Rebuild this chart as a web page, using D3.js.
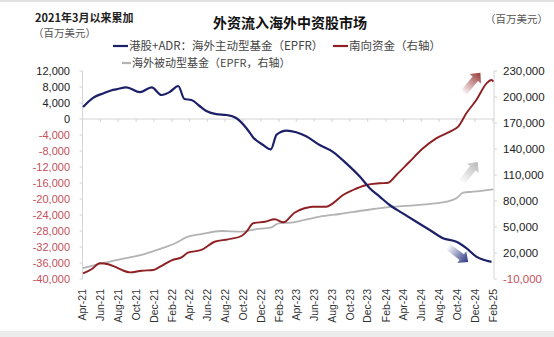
<!DOCTYPE html>
<html><head><meta charset="utf-8">
<script src="https://cdn.jsdelivr.net/npm/d3@7"></script>
<style>
html,body{margin:0;padding:0;background:#fff;}
svg{display:block;font-family:"Liberation Sans",Arial,sans-serif;}
.cjk{font-family:"Noto Sans CJK SC","Liberation Sans",sans-serif;}
</style></head><body>
<svg id="chart" width="554" height="337"></svg>
<script>
// ---- data ----
const xTickLabels = ["Apr-21","Jun-21","Aug-21","Oct-21","Dec-21","Feb-22","Apr-22","Jun-22","Aug-22","Oct-22","Dec-22","Feb-23","Apr-23","Jun-23","Aug-23","Oct-23","Dec-23","Feb-24","Apr-24","Jun-24","Aug-24","Oct-24","Dec-24","Feb-25"];
const leftTicks = [12000,8000,4000,0,-4000,-8000,-12000,-16000,-20000,-24000,-28000,-32000,-36000,-40000];
const rightTicks = [230000,200000,170000,140000,110000,80000,50000,20000,-10000];

// 港股+ADR：海外主动型基金（EPFR） left axis
const activeDates = ["2021-04-03","2021-05-07","2021-06-10","2021-07-10","2021-07-25","2021-08-29","2021-10-14","2021-11-23","2021-12-27","2022-01-25","2022-02-22","2022-03-15","2022-04-08","2022-05-06","2022-05-29","2022-07-02","2022-08-06","2022-09-09","2022-10-13","2022-11-05","2022-12-09","2023-01-04","2023-01-24","2023-02-27","2023-04-01","2023-05-05","2023-06-20","2023-08-04","2023-09-19","2023-11-04","2023-12-08","2024-01-11","2024-02-14","2024-03-30","2024-05-15","2024-06-30","2024-08-14","2024-09-29","2024-11-02","2024-12-06","2025-01-27"];
const activeValues = [3000,5300,6400,7200,7400,7900,6700,7900,6000,6800,8250,5000,4750,3250,2000,1200,1000,200,-2300,-4600,-6500,-7600,-3900,-2900,-3300,-4300,-6500,-8200,-11100,-14400,-17300,-19400,-21500,-23600,-25700,-27750,-29800,-30700,-32300,-34400,-35700];

// 南向资金（右轴）
const southDates = ["2021-04-03","2021-05-02","2021-05-30","2021-06-28","2021-07-20","2021-08-13","2021-09-10","2021-10-20","2021-11-29","2021-12-22","2022-02-01","2022-03-05","2022-03-27","2022-05-12","2022-06-26","2022-08-11","2022-09-26","2022-10-13","2022-11-05","2022-12-15","2023-01-18","2023-02-16","2023-03-26","2023-04-29","2023-05-27","2023-07-12","2023-08-04","2023-09-08","2023-10-12","2023-11-27","2024-01-11","2024-02-09","2024-03-08","2024-04-22","2024-06-07","2024-07-22","2024-09-07","2024-10-05","2024-11-02","2024-12-06","2025-01-10","2025-01-27","2025-02-02"];
const southValues = [-3400,1200,8100,7000,4200,400,-2300,-400,400,4200,11900,15000,20300,23500,33000,35800,39600,44600,54300,56100,58900,55400,66500,71600,73400,73400,77300,86900,92700,98500,100400,101100,110000,125300,140800,152300,160000,165700,181200,196500,215800,219600,217700];

// 海外被动型基金（EPFR，右轴）
const passiveDates = ["2021-04-03","2021-06-05","2021-08-24","2021-10-20","2021-12-27","2022-02-12","2022-03-27","2022-05-12","2022-07-19","2022-09-26","2022-11-11","2023-01-07","2023-01-30","2023-03-14","2023-04-29","2023-06-20","2023-08-27","2023-11-27","2024-02-26","2024-05-26","2024-08-26","2024-09-29","2024-10-22","2024-11-25","2025-02-02"];
const passiveValues = [2400,8100,13900,17700,25400,31200,38800,41900,45400,44600,47300,49700,54300,55000,58100,61900,65000,69600,73400,75500,79200,83100,89600,90700,93500];

// ---- chart ----
(function(){
const svg = d3.select("#chart");
const parse = d3.timeParse("%Y-%m-%d");
const fmt = d3.formatLocale({decimal:".",thousands:",",grouping:[3],currency:["",""],minus:"-"}).format(",");
const pTop = 71, pBottom = 279, pLeft = 82.5, pRight = 493;

const x = d3.scaleTime().domain([new Date(2021,3,1), new Date(2025,1,1)]).range([pLeft, pRight]);
const yL = d3.scaleLinear().domain([-40000,12000]).range([pBottom, pTop]);
const yR = d3.scaleLinear().domain([-10000,230000]).range([pBottom, pTop]);

svg.append("rect").attr("x",0).attr("y",0).attr("width",554).attr("height",2).attr("fill","#e2e2e2");
svg.append("rect").attr("x",0).attr("y",331).attr("width",554).attr("height",6).attr("fill","#ececec");

const axisColor = "#d4d4d4";
svg.append("line").attr("x1",pLeft).attr("x2",pLeft).attr("y1",pTop).attr("y2",pBottom).attr("stroke",axisColor);
svg.append("line").attr("x1",pRight+1).attr("x2",pRight+1).attr("y1",pTop).attr("y2",pBottom).attr("stroke",axisColor);
svg.append("line").attr("x1",pLeft).attr("x2",pRight+1).attr("y1",yL(0)).attr("y2",yL(0)).attr("stroke",axisColor);

const gL = svg.append("g");
leftTicks.forEach(v=>{
  gL.append("line").attr("x1",pLeft-3).attr("x2",pLeft).attr("y1",yL(v)).attr("y2",yL(v)).attr("stroke",axisColor);
  gL.append("text").attr("x",70).attr("y",yL(v)).attr("dy","0.35em").attr("text-anchor","end")
    .attr("font-size",11).attr("fill", v<0 ? "#c4505a" : "#222").text(fmt(v));
});
const gR = svg.append("g");
rightTicks.forEach(v=>{
  gR.append("line").attr("x1",pRight+1).attr("x2",pRight+4).attr("y1",yR(v)).attr("y2",yR(v)).attr("stroke",axisColor);
  gR.append("text").attr("x",503).attr("y",yR(v)).attr("dy","0.35em").attr("text-anchor","start")
    .attr("font-size",11.5).attr("fill", v<0 ? "#c4505a" : "#222").text(fmt(v));
});
const tickDates = xTickLabels.map(s=>d3.timeParse("%b-%y")(s));
const gX = svg.append("g");
tickDates.forEach((d,i)=>{
  const xx = x(d);
  gX.append("line").attr("x1",xx).attr("x2",xx).attr("y1",yL(0)).attr("y2",yL(0)+3).attr("stroke",axisColor);
  gX.append("text").attr("transform",`translate(${xx},289) rotate(-90)`).attr("dy","0.35em")
    .attr("text-anchor","end").attr("font-size",10.5).attr("fill","#333").text(xTickLabels[i]);
});

const line = (ys)=>d3.line().x(d=>x(d[0])).y(d=>ys(d[1])).curve(d3.curveMonotoneX);
const mk = (ds,vs)=>ds.map((d,i)=>[parse(d),vs[i]]);
svg.append("path").datum(mk(passiveDates,passiveValues)).attr("d",line(yR)).attr("fill","none").attr("stroke","#b3b3b3").attr("stroke-width",1.8);
svg.append("path").datum(mk(southDates,southValues)).attr("d",line(yR)).attr("fill","none").attr("stroke","#8e1f22").attr("stroke-width",1.9);
svg.append("path").datum(mk(activeDates,activeValues)).attr("d",line(yL)).attr("fill","none").attr("stroke","#1c2068").attr("stroke-width",2.2);

const defs = svg.append("defs");
function grad(id, color){
  const g = defs.append("linearGradient").attr("id",id).attr("x1","0").attr("y1","0").attr("x2","1").attr("y2","0");
  g.append("stop").attr("offset","0%").attr("stop-color",color).attr("stop-opacity",0.05);
  g.append("stop").attr("offset","100%").attr("stop-color",color).attr("stop-opacity",1);
}
grad("gRed","#9a3838"); grad("gGray","#b8b8b8"); grad("gBlue","#2a3580");
function arrow(tx,ty,hx,hy,id){
  const dx=hx-tx, dy=hy-ty, L=Math.hypot(dx,dy), a=Math.atan2(dy,dx)*180/Math.PI;
  const w=3.5, hw=7.5, hl=8;
  const p=`M0,${-w} L${L-hl},${-w} L${L-hl},${-hw} L${L},0 L${L-hl},${hw} L${L-hl},${w} L0,${w} Z`;
  svg.append("path").attr("d",p).attr("fill",`url(#${id})`).attr("transform",`translate(${tx},${ty}) rotate(${a})`);
}
const lastD = x.domain()[1];
const off = m => d3.timeDay.offset(lastD, Math.round(m*30.4));
arrow(x(off(-3.3)), yR(205000), x(off(-1.4)), yR(228000), "gRed");
arrow(x(off(-3.5)), yR(101900), x(off(-1.7)), yR(125000), "gGray");
arrow(x(off(-5)), yL(-32000), x(off(-2.8)), yL(-35750), "gBlue");

svg.append("text").attr("class","cjk").attr("x",290).attr("y",28).attr("text-anchor","middle").attr("font-size",14).attr("font-weight","bold").attr("fill","#111").text("外资流入海外中资股市场");
svg.append("text").attr("class","cjk").attr("x",35).attr("y",22).attr("font-size",11).attr("font-weight","bold").attr("fill","#222").text("2021年3月以来累加");
svg.append("text").attr("class","cjk").attr("x",33).attr("y",37).attr("font-size",10.5).attr("fill","#555").text("（百万美元）");
svg.append("text").attr("class","cjk").attr("x",485).attr("y",23).attr("font-size",10.5).attr("fill","#555").text("（百万美元）");

const lg = svg.append("g").attr("class","cjk");
function legItem(x0,yc,color,len,label,fs){
  lg.append("line").attr("x1",x0).attr("x2",x0+len).attr("y1",yc).attr("y2",yc).attr("stroke",color).attr("stroke-width",2.2);
  lg.append("text").attr("x",x0+len+1).attr("y",yc).attr("dy","0.36em").attr("font-size",fs).attr("fill","#444").text(label);
}
legItem(113,46,"#1c2068",15,"港股+ADR：海外主动型基金（EPFR）",11.5);
legItem(333,46,"#8e1f22",15,"南向资金（右轴）",11.5);
legItem(122,63,"#b3b3b3",9,"海外被动型基金（EPFR，右轴）",11);
})();
</script>
</body></html>
